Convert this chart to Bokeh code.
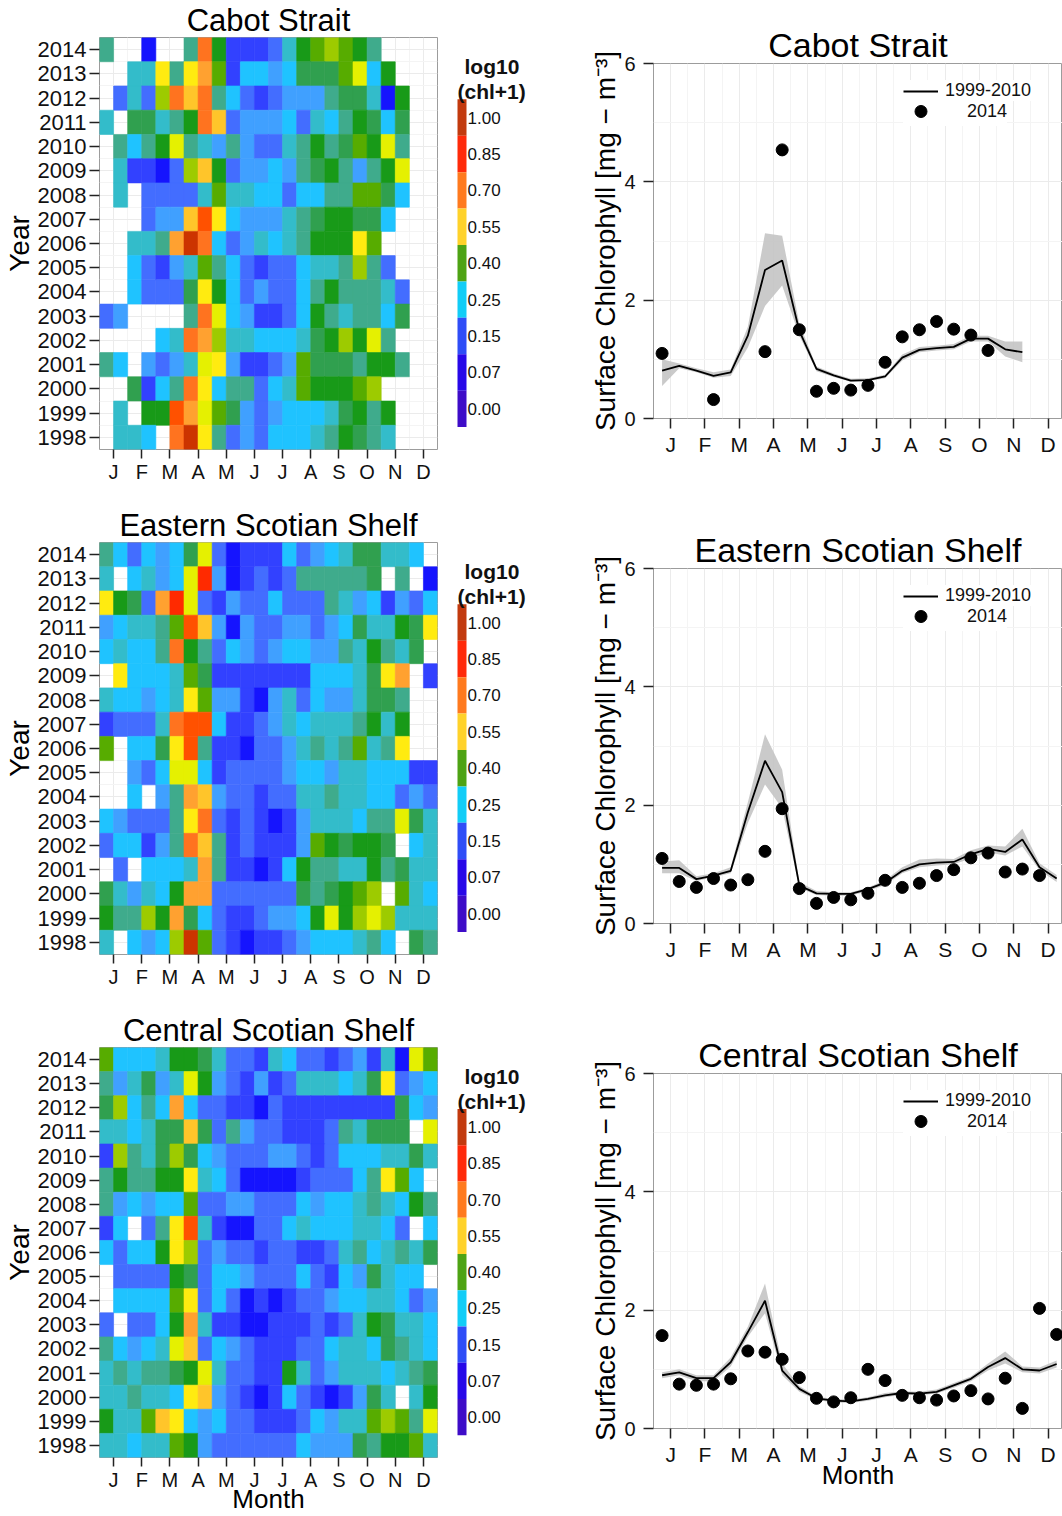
import numpy as np
from bokeh.plotting import figure
from bokeh.models import (ColumnDataSource, Range1d, FixedTicker, LinearColorMapper,
                          Legend, LegendItem)
from bokeh.layouts import row, column
from bokeh.embed import file_html
from bokeh.resources import INLINE
from bokeh.core.properties import value

FONT = "Liberation Sans"

# ------------------------------------------------------------------ data
REGIONS = ["Cabot Strait", "Eastern Scotian Shelf", "Central Scotian Shelf"]
YEARS = list(range(2014, 1997, -1))            # heatmap rows, top to bottom
MONTH_TICKS = list(range(1, 13))
MONTH_LABELS = ["J", "F", "M", "A", "M", "J", "J", "A", "S", "O", "N", "D"]
HALF_MONTH = [0.75 + 0.5 * i for i in range(24)]   # semi-monthly bin centres (month units)

# estimated log10(chl+1) class of each semi-monthly cell ('.' = no data)
CODE_VALUES = {'0': 0.08, '1': 0.12, '2': 0.16, '3': 0.20, '4': 0.24, '5': 0.28,
               '6': 0.32, '7': 0.36, '8': 0.40, '9': 0.44, 'a': 0.48, 'b': 0.52,
               'c': 0.56, 'd': 0.61, 'e': 0.66, 'f': 0.72, 'g': 0.79, 'h': 0.87,
               'i': 0.96}

HEAT_CABOT = [
    "6..0..6f81112589a986....",
    "..55c6ce9144347779b48...",
    ".252afdf64212333677508..",
    "5.77568fd2333425468747..",
    ".6468b65363225686798b6..",
    ".51102ad8233436786368b..",
    ".5.2222595544244669974..",
    "...233dgc433356788774...",
    "..556eif4235456888c9....",
    "..4213596421224556a62...",
    "..42227c84232246866652..",
    "23....6fb4311248656647..",
    "....45fea55444578a8b6...",
    "64.3235bc3112397776886..",
    "..7146fc46624598889a....",
    ".5.88geb9732344457868...",
    ".554.fic6232444568765...",
]
HEAT_EASTERN = [
    "6424347b201114234577554.",
    "5.4534bh301212666667.6.0",
    "c872ehb21322422265341324",
    "345569gd303223323475587c",
    "45446f86243234433658657.",
    ".c444597111111144457ce.1",
    "544345c933103524335776..",
    "12225fgg41123545556858..",
    "9.447cg61102235656956c..",
    "..324bb41222234435544411",
    "..4.36ed3221225565544232",
    "432226cf2121013555466b75",
    "244136fd6121113987887.45",
    ".2.4445e6110148665586755",
    "753548ee22222276789a.954",
    "866a8e7421123348b8aba555",
    "5.434ai92101123444564.76",
]
HEAT_CENTRAL = [
    "9444588752215422123150b9",
    "635735b8321312555457c234",
    "7a464e422110211111111743",
    "554577d726322111265777.b",
    "1a657a743222332124445575",
    "686688c5420000122246c94.",
    "634344922332224344565486",
    "14.26cg510022454445542.4",
    "42448ca23221221125645657",
    ".2222872443222421437544.",
    ".44449c24201012234455423",
    "2.2248e51100111212587554",
    "64345bd24321112245547654",
    "5656678b5221185235554567",
    "556554cd3210142101375.58",
    "8559dc43422111243559a96b",
    "554559832222224333768895",
]

N = None
# climatology 1999-2010 (mean and band) and 2014 semi-monthly chl [mg m-3]
CABOT_MEAN = [0.81, 0.89, 0.81, 0.72, 0.78, 1.40, 2.51, 2.67, 1.48, 0.84, 0.73, 0.64,
              0.65, 0.71, 1.03, 1.16, 1.19, 1.21, 1.35, 1.35, 1.17, 1.12]
CABOT_LO = [0.55, 0.85, 0.78, 0.69, 0.72, 1.20, 1.90, 2.25, 1.40, 0.80, 0.70, 0.62,
            0.63, 0.68, 0.98, 1.12, 1.15, 1.17, 1.30, 1.30, 1.05, 0.95]
CABOT_HI = [1.00, 0.93, 0.85, 0.78, 0.83, 1.55, 3.13, 3.09, 1.60, 0.88, 0.76, 0.67,
            0.68, 0.74, 1.08, 1.21, 1.23, 1.26, 1.40, 1.40, 1.30, 1.30]
CABOT_2014 = [1.10, N, N, 0.32, N, N, 1.13, 4.54, 1.50, 0.46, 0.51, 0.48,
              0.56, 0.95, 1.38, 1.50, 1.64, 1.51, 1.41, 1.15, N, N, N, N]

EASTERN_MEAN = [0.94, 0.94, 0.75, 0.81, 0.89, 1.88, 2.75, 2.22, 0.64, 0.51, 0.50, 0.50,
                0.58, 0.69, 0.89, 1.00, 1.03, 1.04, 1.17, 1.26, 1.21, 1.42, 0.95, 0.76]
EASTERN_LO = [0.85, 0.85, 0.72, 0.78, 0.85, 1.70, 2.35, 1.95, 0.60, 0.48, 0.47, 0.47,
              0.55, 0.65, 0.85, 0.95, 0.98, 1.00, 1.10, 1.20, 1.15, 1.30, 0.90, 0.70]
EASTERN_HI = [1.05, 1.07, 0.80, 0.85, 0.95, 2.05, 3.20, 2.60, 0.70, 0.55, 0.53, 0.53,
              0.61, 0.73, 0.95, 1.08, 1.10, 1.09, 1.24, 1.32, 1.30, 1.60, 1.02, 0.82]
EASTERN_2014 = [1.10, 0.71, 0.61, 0.76, 0.65, 0.74, 1.22, 1.94, 0.59, 0.34, 0.44, 0.40,
                0.51, 0.73, 0.61, 0.68, 0.81, 0.91, 1.11, 1.19, 0.87, 0.92, 0.81, N]

CENTRAL_MEAN = [0.90, 0.95, 0.85, 0.85, 1.12, 1.63, 2.16, 0.98, 0.67, 0.51, 0.47, 0.46,
                0.50, 0.56, 0.60, 0.59, 0.62, 0.73, 0.84, 1.04, 1.19, 1.00, 0.98, 1.09]
CENTRAL_LO = [0.85, 0.90, 0.80, 0.80, 1.05, 1.55, 1.95, 0.90, 0.62, 0.48, 0.44, 0.43,
              0.47, 0.53, 0.57, 0.56, 0.59, 0.69, 0.80, 0.98, 1.10, 0.95, 0.93, 1.03]
CENTRAL_HI = [0.95, 1.00, 0.90, 0.90, 1.20, 1.72, 2.45, 1.10, 0.72, 0.54, 0.50, 0.49,
              0.53, 0.60, 0.63, 0.62, 0.66, 0.77, 0.88, 1.10, 1.30, 1.05, 1.03, 1.15]
CENTRAL_2014 = [1.57, 0.75, 0.73, 0.75, 0.84, 1.31, 1.29, 1.17, 0.86, 0.51, 0.45, 0.52,
                1.00, 0.81, 0.56, 0.52, 0.48, 0.55, 0.64, 0.50, 0.85, 0.34, 2.03, 1.59]

LEGEND_BREAKS = ["1.00", "0.85", "0.70", "0.55", "0.40", "0.25", "0.15", "0.07", "0.00"]
LEGEND_COLORS = ["#C23A0E", "#FF2A0A", "#FF7A1E", "#FFD22A", "#4EA314",
                 "#12CDF7", "#2F4DF7", "#2808E8", "#3E0CC8"]

# ------------------------------------------------------------------ colour scale
STOP_VALUES = [0.00, 0.08, 0.12, 0.16, 0.20, 0.24, 0.28, 0.32, 0.36, 0.40, 0.44,
               0.48, 0.52, 0.56, 0.61, 0.66, 0.72, 0.79, 0.87, 0.96, 1.00]
STOP_COLORS = ["#3A10C8", "#1414FF", "#3444FF", "#4470FF", "#40A0FF", "#1EC4FF",
               "#34BCC8", "#40AA88", "#30A050", "#189A18", "#58AC00", "#A0CC00",
               "#E4F000", "#FFEC10", "#FFC62A", "#FFA030", "#FF7420", "#FF5200",
               "#FF2A00", "#CC3400", "#C03000"]


def build_palette(n=256):
    rgb = np.array([[int(c[k:k + 2], 16) for k in (1, 3, 5)] for c in STOP_COLORS], float)
    xs = np.linspace(0, 1, n)
    out = []
    for x in xs:
        r, g, b = (int(round(np.interp(x, STOP_VALUES, rgb[:, j]))) for j in range(3))
        out.append("#%02x%02x%02x" % (r, g, b))
    return out


MAPPER = LinearColorMapper(palette=build_palette(), low=0.0, high=1.0)

ROW_H = [505, 505, 506]
HEAT_TOP = 36
HEAT_BOTTOM = 449
LINE_TOP = 63
LINE_FRAME_H = 355
GRID_MAJOR = "#EBEBEB"
GRID_MINOR = "#F4F4F4"
BORDER = "#9C9C9C"


def style_axis(ax, size, tick_out, standoff):
    ax.axis_line_color = None
    ax.major_tick_line_color = "#222222"
    ax.major_tick_line_width = 1.5
    ax.major_tick_out = tick_out
    ax.major_tick_in = 0
    ax.minor_tick_line_color = None
    ax.major_label_text_font = FONT
    ax.major_label_text_font_size = size
    ax.major_label_text_color = "#111111"
    ax.major_label_standoff = standoff
    ax.axis_label_text_font = FONT
    ax.axis_label_text_font_style = "normal"
    ax.axis_label_text_color = "#000000"


def style_title(p, size):
    p.title.text_font = FONT
    p.title.text_font_size = size
    p.title.text_font_style = "normal"
    p.title.text_color = "#000000"
    p.title.align = "center"
    p.title.standoff = 0


def heat_fig(name, rows, height, last):
    p = figure(width=440, height=height, x_range=Range1d(0.5, 12.5),
               y_range=Range1d(1997.5, 2014.5), output_backend="svg",
               toolbar_location=None, tools="", title=name,
               min_border_left=99, min_border_right=3, min_border_top=HEAT_TOP,
               min_border_bottom=height - HEAT_BOTTOM)
    style_title(p, "31px")
    xs, ys, vs = [], [], []
    for yr, codes in zip(YEARS, rows):
        for i, ch in enumerate(codes):
            if ch == ".":
                continue
            xs.append(HALF_MONTH[i])
            ys.append(yr)
            vs.append(CODE_VALUES[ch])
    src = ColumnDataSource(dict(x=xs, y=ys, v=vs))
    p.rect(x="x", y="y", width=0.5, height=1.0, source=src,
           fill_color={"field": "v", "transform": MAPPER},
           line_color={"field": "v", "transform": MAPPER}, line_width=0.6)
    xax = p.xaxis[0]
    xax.ticker = FixedTicker(ticks=MONTH_TICKS,
                             minor_ticks=[m - 0.5 for m in MONTH_TICKS] + [12.5])
    xax.major_label_overrides = {m: l for m, l in zip(MONTH_TICKS, MONTH_LABELS)}
    p.yaxis.ticker = FixedTicker(ticks=YEARS, minor_ticks=[y + 0.5 for y in YEARS] + [1997.5])
    style_axis(xax, "20px", 9, 2)
    style_axis(p.yaxis[0], "22px", 10, 3)
    p.yaxis.axis_label = "Year"
    p.yaxis.axis_label_text_font_size = "28px"
    p.yaxis.axis_label_standoff = 0
    if last:
        xax.axis_label = "Month"
        xax.axis_label_text_font_size = "26px"
        xax.axis_label_standoff = -10
    p.xgrid.grid_line_color = GRID_MAJOR
    p.xgrid.minor_grid_line_color = GRID_MINOR
    p.ygrid.grid_line_color = GRID_MAJOR
    p.ygrid.minor_grid_line_color = GRID_MINOR
    p.outline_line_color = BORDER
    p.outline_line_width = 1
    return p


def legend_fig(height):
    # frame is aligned with the heatmap frame; y range expressed in row pixels
    p = figure(width=100, height=height, x_range=Range1d(0, 100),
               y_range=Range1d(HEAT_BOTTOM, HEAT_TOP), output_backend="svg",
               toolbar_location=None, tools="", min_border_left=0, min_border_right=0,
               min_border_top=HEAT_TOP, min_border_bottom=height - HEAT_BOTTOM,
               x_axis_location=None, y_axis_location=None)
    p.grid.visible = False
    p.outline_line_color = None
    n = len(LEGEND_BREAKS)
    top = [98 + 36.5 * k for k in range(n)]
    bot = [t + 36.5 for t in top]
    mid = [t + 18.25 for t in top]
    p.quad(left=17, right=26, top=top, bottom=bot, fill_color=LEGEND_COLORS,
           line_color=None)
    p.text(x=27, y=mid, text=LEGEND_BREAKS, text_font=value(FONT),
           text_font_size="17px", text_baseline="middle", text_align="left",
           text_color="#111111")
    p.text(x=[24, 17], y=[65, 90], text=["log10", "(chl+1)"], text_font=value(FONT),
           text_font_size="21px", text_font_style="bold", text_baseline="middle",
           text_align="left", text_color="#111111")
    return p


def make_legend(item, loc, glyph_h, pad, standoff):
    leg = Legend(items=[item], location=loc, orientation="vertical")
    leg.glyph_width = 35
    leg.glyph_height = glyph_h
    leg.label_height = glyph_h
    leg.spacing = 0
    leg.padding = pad
    leg.margin = 0
    leg.label_standoff = standoff
    leg.label_text_font = FONT
    leg.label_text_font_size = "18px"
    leg.label_text_color = "#111111"
    leg.border_line_color = None
    leg.background_fill_color = "white"
    leg.background_fill_alpha = 1.0
    return leg


def line_fig(name, mean, lo, hi, obs, height, last):
    p = figure(width=522, height=height, x_range=Range1d(0.5, 12.42),
               y_range=Range1d(0, 6), output_backend="svg",
               toolbar_location=None, tools="", title=name,
               min_border_left=113, min_border_right=0, min_border_top=LINE_TOP,
               min_border_bottom=height - LINE_TOP - LINE_FRAME_H)
    style_title(p, "34px")
    x = HALF_MONTH[:len(mean)]
    p.varea(x=x, y1=lo, y2=hi, fill_color="#C4C4C4", fill_alpha=0.9)
    ln = p.line(x=x, y=mean, line_color="black", line_width=1.8)
    ob = [np.nan if v is None else v for v in obs]
    dots = p.scatter(x=HALF_MONTH, y=ob, size=12, fill_color="black", line_color="black")
    p.xaxis.ticker = FixedTicker(ticks=MONTH_TICKS,
                                 minor_ticks=[m - 0.5 for m in MONTH_TICKS] + [12.5])
    p.xaxis.major_label_overrides = {m: l for m, l in zip(MONTH_TICKS, MONTH_LABELS)}
    p.yaxis.ticker = FixedTicker(ticks=[0, 2, 4, 6], minor_ticks=[1, 3, 5])
    style_axis(p.xaxis[0], "21px", 10, 4)
    style_axis(p.yaxis[0], "20px", 10, 8)
    p.yaxis.axis_label = "Surface Chlorophyll [mg \u2212 m\u207B\u00B3]"
    p.yaxis.axis_label_text_font_size = "28px"
    p.yaxis.axis_label_standoff = 0
    if last:
        p.xaxis.axis_label = "Month"
        p.xaxis.axis_label_text_font_size = "26px"
        p.xaxis.axis_label_standoff = -9
    p.xgrid.grid_line_color = GRID_MAJOR
    p.xgrid.minor_grid_line_color = GRID_MINOR
    p.ygrid.grid_line_color = GRID_MAJOR
    p.ygrid.minor_grid_line_color = GRID_MINOR
    p.outline_line_color = BORDER
    p.outline_line_width = 1
    # dot entry first (drawn underneath), then the line entry on top
    p.add_layout(make_legend(LegendItem(label="2014", renderers=[dots]),
                             (250, 292), 30, 8, 29))
    p.add_layout(make_legend(LegendItem(label="1999-2010", renderers=[ln]),
                             (250, 317), 20, 4, 7))
    return p


HEATS = [HEAT_CABOT, HEAT_EASTERN, HEAT_CENTRAL]
LINES = [(CABOT_MEAN, CABOT_LO, CABOT_HI, CABOT_2014),
         (EASTERN_MEAN, EASTERN_LO, EASTERN_HI, EASTERN_2014),
         (CENTRAL_MEAN, CENTRAL_LO, CENTRAL_HI, CENTRAL_2014)]

left_rows, right_figs = [], []
for k, name in enumerate(REGIONS):
    h = ROW_H[k]
    last = k == len(REGIONS) - 1
    m, lo, hi, ob = LINES[k]
    left_rows.append(row(heat_fig(name, HEATS[k], h, last), legend_fig(h)))
    right_figs.append(line_fig(name, m, lo, hi, ob, h, last))

layout = row(column(*left_rows), column(*right_figs))
with open("out.html", "w") as f:
    f.write(file_html(layout, INLINE))
